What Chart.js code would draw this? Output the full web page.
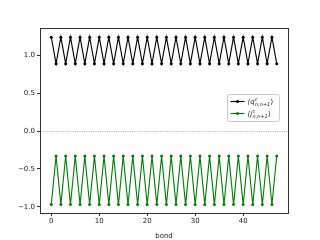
<!DOCTYPE html>
<html><head><meta charset="utf-8">
<script src="https://cdn.jsdelivr.net/npm/chart.js@4/dist/chart.umd.min.js"></script>
<style>html,body{margin:0;padding:0;background:#fff}#c{display:block}</style>
</head><body>
<canvas id="c" width="320" height="240"></canvas>
<script>
const bonds = [0,1,2,3,4,5,6,7,8,9,10,11,12,13,14,15,16,17,18,19,20,21,22,23,24,25,26,27,28,29,30,31,32,33,34,35,36,37,38,39,40,41,42,43,44,45,46,47];
const qValues = [1.24,0.89,1.24,0.89,1.24,0.89,1.24,0.89,1.24,0.89,1.24,0.89,1.24,0.89,1.24,0.89,1.24,0.89,1.24,0.89,1.24,0.89,1.24,0.89,1.24,0.89,1.24,0.89,1.24,0.89,1.24,0.89,1.24,0.89,1.24,0.89,1.24,0.89,1.24,0.89,1.24,0.89,1.24,0.89,1.24,0.89,1.24,0.89];
const jValues = [-0.97,-0.33,-0.97,-0.33,-0.97,-0.33,-0.97,-0.33,-0.97,-0.33,-0.97,-0.33,-0.97,-0.33,-0.97,-0.33,-0.97,-0.33,-0.97,-0.33,-0.97,-0.33,-0.97,-0.33,-0.97,-0.33,-0.97,-0.33,-0.97,-0.33,-0.97,-0.33,-0.97,-0.33,-0.97,-0.33,-0.97,-0.33,-0.97,-0.33,-0.97,-0.33,-0.97,-0.33,-0.97,-0.33,-0.97,-0.33];
const xTicks = [0,10,20,30,40];
const yTicks = [-1.0,-0.5,0.0,0.5,1.0];
// label parts: [base, superscript, subscript]
const seriesLabels = ['⟨qᶜₙ,ₙ₊₁⟩','⟨jᶜₙ,ₙ₊₁⟩'];
const labelParts = [['⟨q','c','n,n+1','⟩'],['⟨j','c','n,n+1','⟩']];
const xTitle = 'bond';

const FONT = '"DejaVu Sans", sans-serif';
const frame = {
  id:'frame',
  beforeDatasetsDraw(chart){
    const {ctx, chartArea:a, scales} = chart;
    const y0 = Math.round(scales.y.getPixelForValue(0)) + 0.5;
    ctx.save();
    ctx.strokeStyle = '#c4c4c4';
    ctx.lineWidth = 1;
    ctx.setLineDash([1.5,0.8]);
    ctx.beginPath(); ctx.moveTo(a.left, y0); ctx.lineTo(a.right, y0); ctx.stroke();
    ctx.restore();
  },
  afterDraw(chart){
    const {ctx, chartArea:a} = chart;
    ctx.save();
    ctx.strokeStyle = '#333';
    ctx.lineWidth = 1;
    ctx.strokeRect(Math.round(a.left)+0.5, Math.round(a.top)+0.5, Math.round(a.right-a.left), Math.round(a.bottom-a.top));
    // legend
    const bx=227.5, by=94.5, bw=52, bh=27;
    ctx.fillStyle='rgba(255,255,255,0.8)';
    ctx.strokeStyle='#cccccc';
    ctx.beginPath();
    if (ctx.roundRect) ctx.roundRect(bx,by,bw,bh,2); else ctx.rect(bx,by,bw,bh);
    ctx.fill(); ctx.stroke();
    chart.data.datasets.forEach((ds,i)=>{
      const yy = by + 7 + i*12;
      ctx.strokeStyle = ds.borderColor; ctx.lineWidth=1.1;
      ctx.beginPath(); ctx.moveTo(bx+3, yy); ctx.lineTo(bx+17, yy); ctx.stroke();
      ctx.fillStyle = ds.borderColor;
      ctx.beginPath(); ctx.arc(bx+10, yy, 1.5, 0, Math.PI*2); ctx.fill();
      ctx.fillStyle='#222';
      ctx.textBaseline='alphabetic';
      const p = labelParts[i];
      let x = bx+20;
      const base = yy + 2.5;
      ctx.font = 'italic 7px ' + FONT;
      ctx.fillText(p[0], x, base); x += ctx.measureText(p[0]).width + 0.3;
      ctx.font = 'italic 5px ' + FONT;
      ctx.fillText(p[1], x, base - 3.2);
      ctx.fillText(p[2], x, base + 1.5);
      x += ctx.measureText(p[2]).width + 0.3;
      ctx.font = '7px ' + FONT;
      ctx.fillText(p[3], x, base);
    });
    ctx.restore();
  }
};

new Chart(document.getElementById('c'), {
  type:'line',
  data:{
    labels: bonds,
    datasets:[
      {label:seriesLabels[0], data:bonds.map((b,i)=>({x:b,y:qValues[i]})), borderColor:'#000000', backgroundColor:'#000000', borderWidth:1.1, pointRadius:1.5, pointHoverRadius:1.5, pointBorderWidth:0, tension:0},
      {label:seriesLabels[1], data:bonds.map((b,i)=>({x:b,y:jValues[i]})), borderColor:'#008000', backgroundColor:'#008000', borderWidth:1.1, pointRadius:1.5, pointHoverRadius:1.5, pointBorderWidth:0, tension:0}
    ]
  },
  options:{
    responsive:false, animation:false, devicePixelRatio:1,
    layout:{padding:{left:0,right:32,top:28,bottom:0}},
    plugins:{legend:{display:false}, tooltip:{enabled:false}},
    scales:{
      x:{type:'linear', min:-2.35, max:49.35,
        afterBuildTicks(s){ s.ticks = xTicks.map(v=>({value:v})); },
        afterFit(s){ s.height = 27; },
        grid:{drawOnChartArea:false, drawTicks:true, tickLength:3, color:'#333'},
        border:{display:false},
        ticks:{font:{family:FONT,size:7}, color:'#222', padding:1, maxRotation:0, callback:v=>String(v)},
        title:{display:true, text:xTitle, font:{family:FONT,size:7}, color:'#222', padding:{top:1,bottom:0}}
      },
      y:{type:'linear', min:-1.081, max:1.361,
        afterBuildTicks(s){ s.ticks = yTicks.map(v=>({value:v})); },
        afterFit(s){ s.width = 40; },
        grid:{drawOnChartArea:false, drawTicks:true, tickLength:3, color:'#333'},
        border:{display:false},
        ticks:{font:{family:FONT,size:7}, color:'#222', padding:2, callback:v=>(v<0?'\u2212':'')+Math.abs(v).toFixed(1)}
      }
    }
  },
  plugins:[frame]
});
</script>
</body></html>
